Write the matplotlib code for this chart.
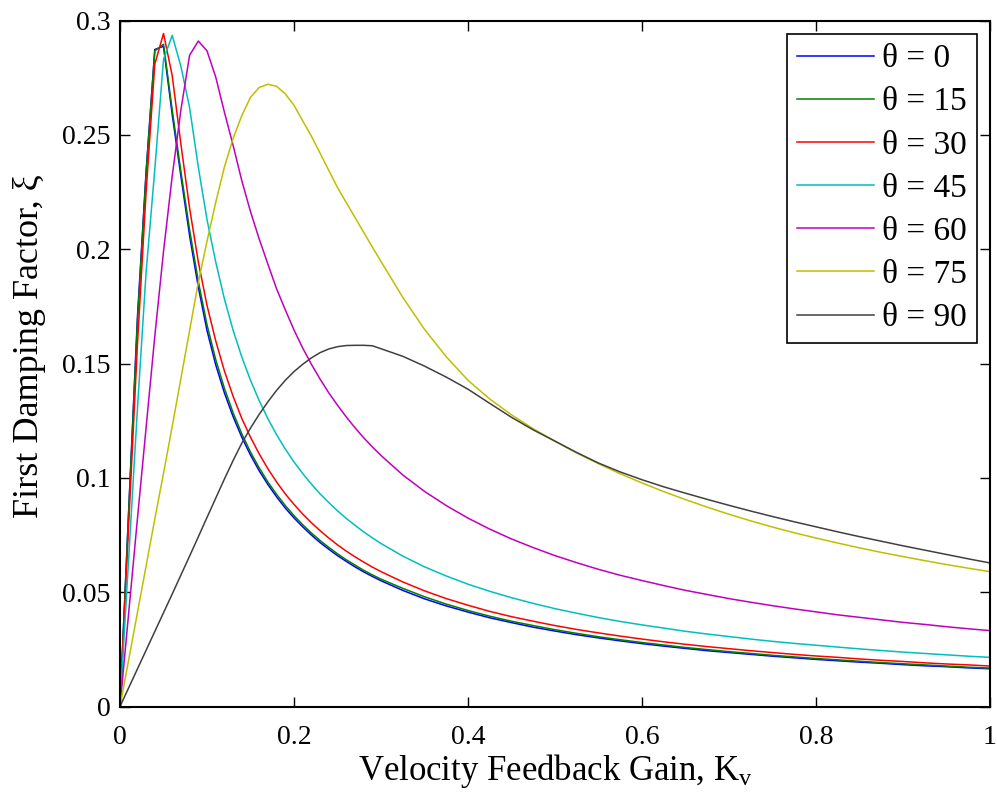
import matplotlib
matplotlib.use("Agg")
import matplotlib.pyplot as plt
from matplotlib.ticker import FixedLocator

plt.rcParams['font.family'] = ['Liberation Serif', 'DejaVu Serif']
plt.rcParams['mathtext.fontset'] = 'custom'
plt.rcParams['mathtext.rm'] = 'Liberation Serif'
plt.rcParams['mathtext.it'] = 'Liberation Serif:italic'

kv = [0.00, 0.01, 0.02, 0.03, 0.04, 0.05, 0.06, 0.07, 0.08, 0.09,
      0.10, 0.11, 0.12, 0.13, 0.14, 0.15, 0.16, 0.17, 0.18, 0.19,
      0.20, 0.21, 0.22, 0.23, 0.24, 0.25, 0.26, 0.27, 0.28, 0.29,
      0.30, 0.325, 0.35, 0.375, 0.40, 0.425, 0.45, 0.475, 0.50, 0.525,
      0.55, 0.575, 0.60, 0.625, 0.65, 0.675, 0.70, 0.725, 0.75, 0.775,
      0.80, 0.825, 0.85, 0.875, 0.90, 0.925, 0.95, 0.975, 1.00]

theta0 = [0, 0.086, 0.170, 0.234, 0.2874, 0.2888, 0.259, 0.232, 0.206, 0.1835,
          0.1645, 0.1495, 0.1372, 0.1268, 0.1178, 0.110, 0.1031, 0.0971, 0.0917, 0.0868,
          0.0825, 0.0786, 0.0750, 0.0717, 0.0688, 0.0660, 0.0635, 0.0611, 0.0589, 0.0569,
          0.0550, 0.0508, 0.0471, 0.0440, 0.0413, 0.0388, 0.0367, 0.0347, 0.0330, 0.0314,
          0.0300, 0.0287, 0.0275, 0.0264, 0.0254, 0.0244, 0.0236, 0.0228, 0.0220, 0.0213,
          0.0206, 0.0200, 0.0194, 0.0189, 0.0183, 0.0178, 0.0174, 0.0169, 0.0165]

theta15 = [0, 0.085, 0.168, 0.233, 0.2868, 0.2897, 0.261, 0.234, 0.2085, 0.1860,
           0.1670, 0.1518, 0.1392, 0.1285, 0.1193, 0.1113, 0.1044, 0.0982, 0.0928, 0.0879,
           0.0835, 0.0795, 0.0759, 0.0726, 0.0696, 0.0668, 0.0642, 0.0619, 0.0596, 0.0576,
           0.0557, 0.0517, 0.0480, 0.0448, 0.0420, 0.0395, 0.0373, 0.0354, 0.0336, 0.0320,
           0.0305, 0.0292, 0.0280, 0.0269, 0.0258, 0.0249, 0.0240, 0.0232, 0.0224, 0.0217,
           0.0210, 0.0204, 0.0198, 0.0192, 0.0187, 0.0182, 0.0177, 0.0172, 0.0168]

theta30 = [0, 0.080, 0.158, 0.225, 0.281, 0.2944, 0.276, 0.246, 0.218, 0.1945,
           0.1755, 0.1600, 0.1468, 0.1357, 0.1260, 0.1178, 0.1105, 0.1040, 0.0982, 0.0930,
           0.0884, 0.0842, 0.0804, 0.0769, 0.0737, 0.0707, 0.0680, 0.0655, 0.0632, 0.0610,
           0.0590, 0.0545, 0.0506, 0.0472, 0.0443, 0.0416, 0.0393, 0.0373, 0.0354, 0.0337,
           0.0322, 0.0308, 0.0295, 0.0283, 0.0272, 0.0262, 0.0253, 0.0244, 0.0236, 0.0228,
           0.0221, 0.0215, 0.0208, 0.0202, 0.0197, 0.0191, 0.0186, 0.0182, 0.0177]

theta45 = [0, 0.065, 0.130, 0.190, 0.235, 0.283, 0.2936, 0.280, 0.262, 0.236,
           0.213, 0.1945, 0.1783, 0.1646, 0.1529, 0.1427, 0.1338, 0.1259, 0.1189, 0.1126,
           0.1070, 0.1019, 0.0973, 0.0930, 0.0892, 0.0856, 0.0823, 0.0793, 0.0764, 0.0738,
           0.0713, 0.0658, 0.0611, 0.0571, 0.0535, 0.0504, 0.0476, 0.0451, 0.0428, 0.0408,
           0.0389, 0.0372, 0.0357, 0.0343, 0.0329, 0.0317, 0.0306, 0.0295, 0.0285, 0.0276,
           0.0268, 0.0260, 0.0252, 0.0245, 0.0238, 0.0232, 0.0226, 0.0220, 0.0215]

theta60 = [0, 0.041, 0.082, 0.122, 0.162, 0.199, 0.232, 0.261, 0.2849, 0.2911,
           0.2868, 0.2754, 0.2600, 0.2455, 0.2300, 0.2165, 0.2045, 0.1935, 0.1827, 0.1735,
           0.1647, 0.1568, 0.1497, 0.1432, 0.1372, 0.1318, 0.1267, 0.1220, 0.1176, 0.1136,
           0.1098, 0.1013, 0.0941, 0.0879, 0.0824, 0.0776, 0.0733, 0.0695, 0.0660, 0.0629,
           0.0600, 0.0574, 0.0551, 0.0529, 0.0508, 0.0490, 0.0472, 0.0456, 0.0441, 0.0427,
           0.0414, 0.0401, 0.0390, 0.0379, 0.0368, 0.0359, 0.0349, 0.0340, 0.0332]

theta75 = [0, 0.0205, 0.041, 0.0615, 0.082, 0.102, 0.1225, 0.1435, 0.1645, 0.1855,
           0.2035, 0.2205, 0.2360, 0.2485, 0.2585, 0.2665, 0.2708, 0.2722, 0.2713, 0.2680,
           0.2630, 0.2562, 0.2495, 0.2420, 0.2345, 0.2270, 0.2205, 0.2140, 0.2075, 0.2010,
           0.1947, 0.1790, 0.1650, 0.1530, 0.1427, 0.1345, 0.1276, 0.1215, 0.1160, 0.1109,
           0.1062, 0.1018, 0.0978, 0.0940, 0.0905, 0.0872, 0.0841, 0.0812, 0.0785, 0.0760,
           0.0737, 0.0715, 0.0694, 0.0674, 0.0656, 0.0638, 0.0621, 0.0605, 0.0590]

theta90 = [0, 0.0082, 0.0164, 0.0246, 0.0328, 0.0410, 0.0492, 0.0575, 0.0658, 0.0742,
           0.0827, 0.0911, 0.0995, 0.1076, 0.1152, 0.1218, 0.1278, 0.1333, 0.1383, 0.1427,
           0.1465, 0.1497, 0.1525, 0.1548, 0.1564, 0.1574, 0.1579, 0.1580, 0.1580, 0.1578,
           0.1565, 0.1532, 0.1489, 0.1441, 0.1388, 0.1326, 0.1265, 0.1210, 0.1161, 0.1111,
           0.1065, 0.1026, 0.0992, 0.0961, 0.0933, 0.0906, 0.0880, 0.0855, 0.0831, 0.0808,
           0.0786, 0.0764, 0.0743, 0.0723, 0.0703, 0.0684, 0.0665, 0.0646, 0.0628]

series = [theta0, theta15, theta30, theta45, theta60, theta75, theta90]
labels = ['θ = 0', 'θ = 15', 'θ = 30', 'θ = 45', 'θ = 60', 'θ = 75', 'θ = 90']
colors = ['#0000ff', '#008000', '#ff0000', '#00bfbf', '#bf00bf', '#bfbf00', '#404040']

xticks = [0, 0.2, 0.4, 0.6, 0.8, 1.0]
xticklabels = ['0', '0.2', '0.4', '0.6', '0.8', '1']
yticks = [0, 0.05, 0.1, 0.15, 0.2, 0.25, 0.3]
yticklabels = ['0', '0.05', '0.1', '0.15', '0.2', '0.25', '0.3']

fig = plt.figure(figsize=(9.97, 7.92), dpi=100)
ax = fig.add_axes([120/997, 1 - 706.5/792, 870/997, (706.5 - 20.7)/792])

for y, lab, c in zip(series, labels, colors):
    ax.plot(kv, y, color=c, lw=1.1, label=lab)

ax.set_xlim(0, 1)
ax.set_ylim(0, 0.3)
ax.xaxis.set_major_locator(FixedLocator(xticks))
ax.set_xticklabels(xticklabels)
ax.yaxis.set_major_locator(FixedLocator(yticks))
ax.set_yticklabels(yticklabels)
ax.tick_params(direction='in', length=7, width=1.0, labelsize=20,
               top=True, right=True)
ax.tick_params(axis='x', pad=13)
ax.tick_params(axis='y', pad=7)
for s in ax.spines.values():
    s.set_linewidth(1.5)

ax.set_xlabel(r'Velocity Feedback Gain, K$_{\mathrm{v}}$', fontsize=25, labelpad=2)
ax.set_ylabel('First Damping Factor, ξ', fontsize=26, labelpad=8)
ax.yaxis.set_label_coords(-0.085, 0.525)

leg = ax.legend(loc='upper right', fontsize=24, frameon=True, fancybox=False,
                edgecolor='black', framealpha=1, handlelength=2.3,
                handletextpad=0.24, labelspacing=0.38, borderaxespad=0.39,
                borderpad=0.3)
leg.get_frame().set_linewidth(1.2)

fig.savefig('out.png', dpi=100)
